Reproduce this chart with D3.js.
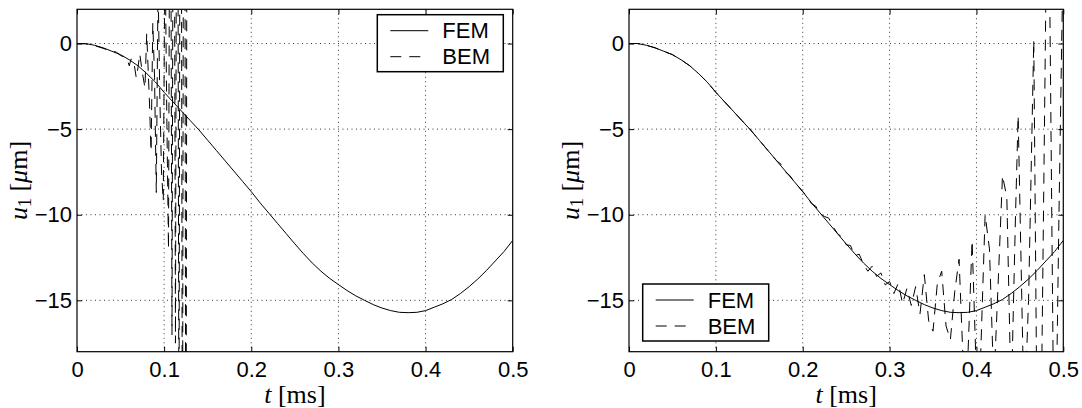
<!DOCTYPE html>
<html><head><meta charset="utf-8">
<script src="https://cdn.jsdelivr.net/npm/d3@7"></script>
<style>body{margin:0;background:#fff}svg{display:block}</style>
</head><body>
<svg id="c" width="1082" height="408"></svg>
<script>
// ---- data ----
const xTicks = [0, 0.1, 0.2, 0.3, 0.4, 0.5];
const yTicks = [-15, -10, -5, 0];
const seriesNames = ["FEM", "BEM"];

const femT = [0,0.01,0.02,0.03,0.04,0.05,0.06,0.07,0.08,0.09,0.10,0.11,0.12,0.13,0.14,0.15,0.16,0.17,0.18,0.19,0.20,0.21,0.22,0.23,0.24,0.25,0.26,0.27,0.28,0.29,0.30,0.31,0.32,0.33,0.34,0.35,0.36,0.37,0.38,0.39,0.40,0.41,0.42,0.43,0.44,0.45,0.46,0.47,0.48,0.49,0.50];
const femU = [0,0,-0.1,-0.25,-0.45,-0.65,-0.95,-1.3,-1.75,-2.25,-2.85,-3.4,-3.95,-4.5,-5.05,-5.65,-6.25,-6.85,-7.45,-8.05,-8.65,-9.3,-9.9,-10.5,-11.1,-11.7,-12.28,-12.82,-13.3,-13.72,-14.08,-14.43,-14.74,-15.0,-15.25,-15.45,-15.6,-15.7,-15.72,-15.7,-15.6,-15.4,-15.2,-14.95,-14.6,-14.2,-13.75,-13.25,-12.7,-12.15,-11.5];

const bemLeftT = [0,0.010,0.020,0.030,0.040,0.045,0.050,0.055,0.058,0.060,0.062,0.065,0.068,0.070,0.072,0.075,0.078,0.080,0.083,0.085,0.087,0.089,0.091,0.093,0.095,0.097,0.099,0.101,0.103,0.105,0.107,0.109,0.111,0.113,0.115,0.117,0.119,0.121,0.123,0.125,0.127];
const bemLeftU = [0,-0.02,-0.12,-0.28,-0.45,-0.5,-0.7,-0.8,-1.0,-1.3,-0.9,-1.0,-2.0,-1.4,-0.6,-1.7,-2.6,0.6,-3.2,-6.3,1.2,-2.0,-8.7,3.5,-3.0,-7.5,-9.2,6,-4,-12,20,-17,25,-17.5,30,-25,35,-30,40,-35,45];

const bemRightT = [0,0.01,0.02,0.03,0.04,0.05,0.06,0.07,0.08,0.09,0.10,0.11,0.12,0.13,0.14,0.15,0.16,0.17,0.175,0.18,0.185,0.19,0.20,0.205,0.21,0.215,0.22,0.225,0.23,0.235,0.24,0.245,0.25,0.255,0.26,0.265,0.27,0.275,0.28,0.285,0.29,0.295,0.30,0.305,0.31,0.315,0.32,0.325,0.33,0.335,0.34,0.345,0.35,0.355,0.36,0.365,0.37,0.375,0.38,0.385,0.39,0.395,0.40,0.405,0.41,0.415,0.42,0.425,0.43,0.435,0.44,0.445,0.448,0.455,0.46,0.466,0.47,0.475,0.48,0.484,0.49,0.495,0.50];
const bemRightU = [0,0,-0.1,-0.25,-0.45,-0.65,-0.95,-1.3,-1.75,-2.25,-2.85,-3.4,-3.95,-4.5,-5.05,-5.65,-6.25,-6.85,-7.05,-7.5,-7.7,-8.05,-8.65,-8.9,-9.35,-9.5,-9.95,-10.1,-10.2,-10.7,-11.1,-11.3,-11.75,-11.8,-12.4,-12.3,-12.9,-13.3,-13.0,-13.6,-13.4,-14.1,-13.9,-14.6,-14.0,-15.2,-14.3,-15.3,-14.2,-15.8,-13.5,-16.2,-16.8,-14.0,-13.3,-16.5,-17.3,-14.5,-12.6,-19,-18.5,-11.5,-19.5,-18,-10.0,-12,-20,-14,-7.7,-9,-21,-10,-4.2,-22,-15,0.2,-24,-20,3,5,-28,-10,6];

// ---- layout ----
const svg = d3.select("#c");
const yTop = 9.3, yBot = 351.7;
const panels = [
  {x0: 77, x1: 512.7, bem: [bemLeftT, bemLeftU], legend: {x: 377.3, y: 14.7}},
  {x0: 629, x1: 1063.3, bem: [bemRightT, bemRightU], legend: {x: 642.7, y: 284}}
];
const tickFont = "'Liberation Sans', Arial, Helvetica, sans-serif";
const serif = "'Liberation Serif', 'Times New Roman', serif";
const fmt = d => d3.format("")(d).replace("-", "\u2212");
const dash = "11,8";

panels.forEach((p, i) => {
  const x = d3.scaleLinear().domain([0, 0.5]).range([p.x0, p.x1]);
  const y = d3.scaleLinear().domain([-18, 2]).range([yBot, yTop]);
  const g = svg.append("g");
  const cid = "clip" + i;
  svg.append("clipPath").attr("id", cid).append("rect")
    .attr("x", p.x0).attr("y", yTop).attr("width", p.x1 - p.x0).attr("height", yBot - yTop);

  // grid
  const grid = g.append("g").attr("stroke", "#000").attr("stroke-width", 0.8).attr("stroke-dasharray", "1,3.5");
  grid.selectAll(".gx").data(xTicks.filter(t => t > 0 && t < 0.5)).join("line")
    .attr("x1", d => x(d)).attr("x2", d => x(d)).attr("y1", yTop).attr("y2", yBot);
  grid.selectAll(".gy").data(yTicks).join("line")
    .attr("y1", d => y(d)).attr("y2", d => y(d)).attr("x1", p.x0).attr("x2", p.x1);

  // axes
  const ax = (gen, tr, labels) => {
    const a = g.append("g").attr("transform", tr).call(gen);
    a.select(".domain").remove();
    a.selectAll("line").attr("stroke", "#000");
    a.selectAll("text").attr("font-family", tickFont).attr("font-size", 22).attr("fill", "#000");
    if (!labels) a.selectAll("text").remove();
    return a;
  };
  ax(d3.axisBottom(x).tickValues(xTicks).tickSize(-5).tickPadding(10).tickFormat(d3.format("")), `translate(0,${yBot})`, true);
  ax(d3.axisTop(x).tickValues(xTicks).tickSize(-5), `translate(0,${yTop})`, false);
  ax(d3.axisLeft(y).tickValues(yTicks).tickSize(-5).tickPadding(5).tickFormat(fmt), `translate(${p.x0},0)`, true);
  ax(d3.axisRight(y).tickValues(yTicks).tickSize(-5), `translate(${p.x1},0)`, false);

  // lines
  const line = d3.line().x(d => x(d[0])).y(d => y(d[1]));
  const lines = g.append("g").attr("clip-path", `url(#${cid})`).attr("fill", "none").attr("stroke", "#000").attr("stroke-width", 1);
  lines.append("path").attr("d", line(femT.map((t, k) => [t, femU[k]])));
  lines.append("path").attr("stroke-dasharray", dash).attr("d", line(p.bem[0].map((t, k) => [t, p.bem[1][k]])));

  // frame
  g.append("rect").attr("x", p.x0).attr("y", yTop).attr("width", p.x1 - p.x0).attr("height", yBot - yTop)
    .attr("fill", "none").attr("stroke", "#000").attr("stroke-width", 1.2);

  // axis labels
  const xl = g.append("text").attr("x", (p.x0 + p.x1) / 2).attr("y", 403).attr("text-anchor", "middle")
    .attr("font-family", serif).attr("font-size", 26);
  xl.append("tspan").attr("font-style", "italic").text("t");
  xl.append("tspan").text(" [ms]");
  const yl = g.append("text").attr("transform", `translate(${p.x0 - 50},${(yTop + yBot) / 2}) rotate(-90)`)
    .attr("text-anchor", "middle").attr("font-family", serif).attr("font-size", 26);
  yl.append("tspan").attr("font-style", "italic").text("u");
  yl.append("tspan").attr("font-size", 18).attr("dy", 4).text("1");
  yl.append("tspan").attr("dy", -4).text(" [");
  yl.append("tspan").attr("font-style", "italic").text("\u03bc");
  yl.append("tspan").text("m]");

  // legend
  const L = g.append("g").attr("transform", `translate(${p.legend.x},${p.legend.y})`);
  L.append("rect").attr("width", 126).attr("height", 57).attr("fill", "#fff").attr("stroke", "#000").attr("stroke-width", 1.5);
  seriesNames.forEach((n, k) => {
    const yy = 16 + k * 26;
    L.append("line").attr("x1", 13).attr("x2", 51).attr("y1", yy).attr("y2", yy).attr("stroke", "#000")
      .attr("stroke-width", 1).attr("stroke-dasharray", k ? dash : null);
    L.append("text").attr("x", 65).attr("y", yy).attr("dy", "0.35em").attr("font-family", tickFont)
      .attr("font-size", 22).text(n);
  });
});
</script>
</body></html>
